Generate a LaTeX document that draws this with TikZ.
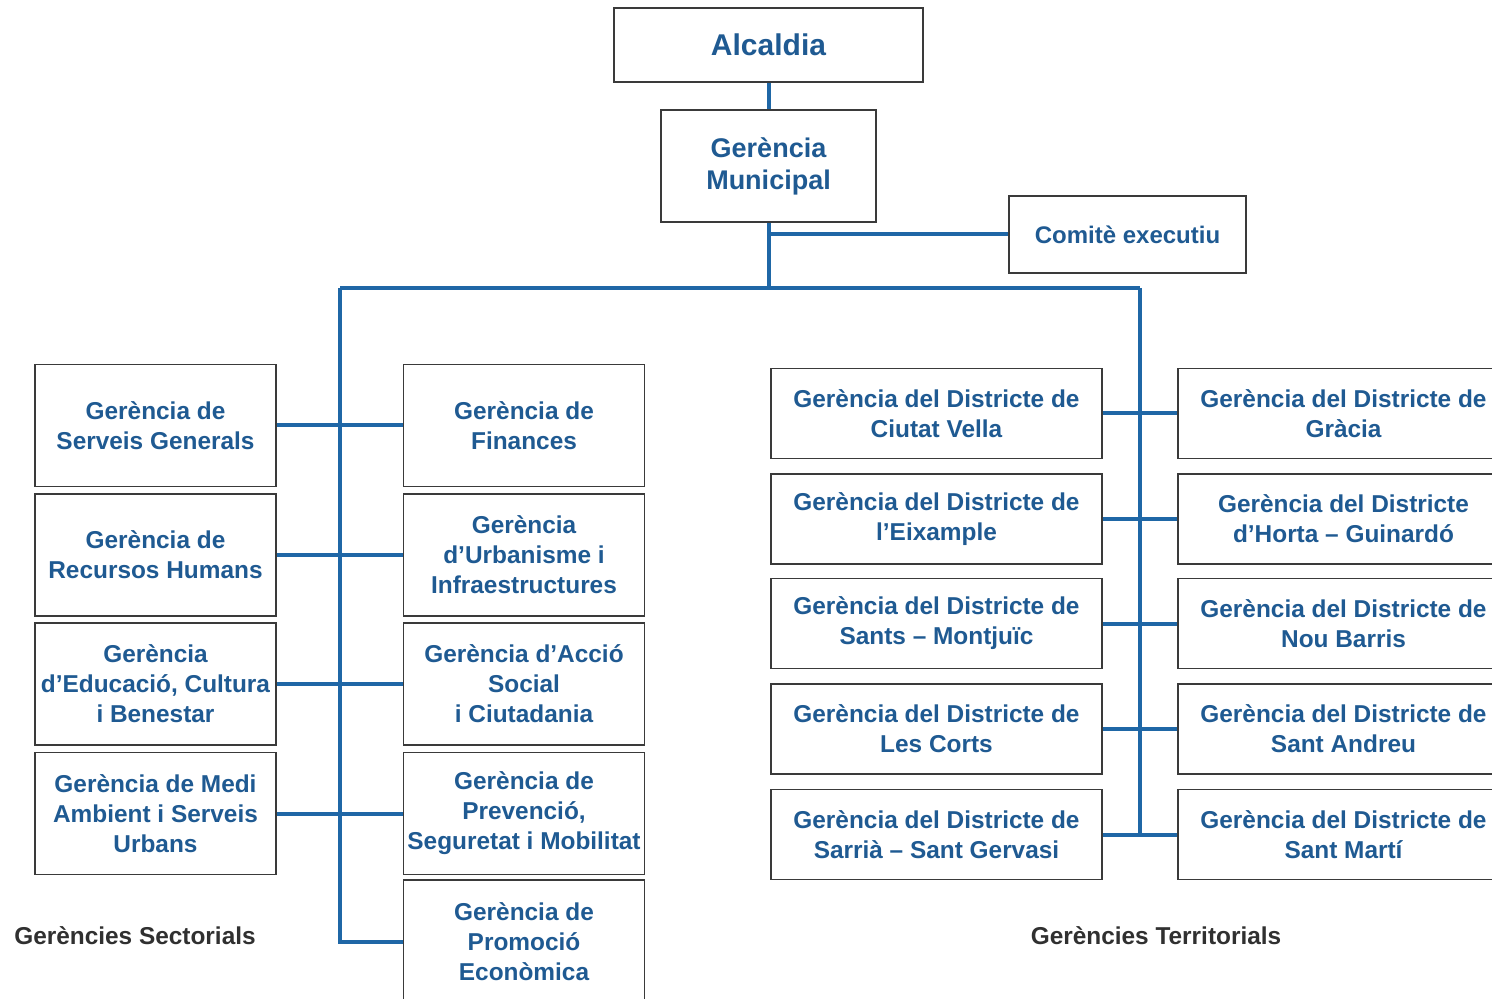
\documentclass[tikz,border=0pt]{standalone}
\usepackage{fontspec}
\setmainfont{Liberation Sans}
\definecolor{txtblue}{HTML}{1F5A92}
\definecolor{lineblue}{HTML}{1F67A6}
\definecolor{boxline}{HTML}{3A3A3A}
\definecolor{lblgray}{HTML}{303030}
\begin{document}
\begin{tikzpicture}[x=0.5pt,y=-0.5pt,
  box/.style={draw=boxline, line width=0.7pt, fill=white, align=center, text=txtblue,
    inner sep=0pt, font=\fontsize{12.2pt}{15pt}\selectfont\bfseries},
  secbox/.style={box, minimum width=120.5pt, minimum height=61pt},
  terbox/.style={box, minimum width=165.5pt, minimum height=45pt},
  conn/.style={draw=lineblue, line width=2pt},
  lbl/.style={text=lblgray, font=\fontsize{12.2pt}{15pt}\selectfont\bfseries, inner sep=0pt}]
\useasboundingbox (0,0) rectangle (1492,999);

% top
\node[box, minimum width=154.5pt, minimum height=37pt, font=\fontsize{15pt}{18pt}\selectfont\bfseries] (alc) at (768.5,45) {Alcaldia};
\node[box, minimum width=107.5pt, minimum height=56pt, font=\fontsize{13.5pt}{16pt}\selectfont\bfseries] (gm) at (768.5,166) {Gerència\\Municipal};
\node[box, minimum width=118.5pt, minimum height=38.5pt, font=\fontsize{12pt}{15pt}\selectfont\bfseries] (com) at (1127.5,234.5) {Comitè executiu};

% sectorial left column
\node[secbox] (sg) at (155.5,425.5) {Gerència de\\Serveis Generals};
\node[secbox] (rh) at (155.5,555) {Gerència de\\Recursos Humans};
\node[secbox] (edu) at (155.5,684) {Gerència\\d’Educació, Cultura\\i Benestar};
\node[secbox] (med) at (155.5,813.5) {Gerència de Medi\\Ambient i Serveis\\Urbans};

% sectorial right column
\node[secbox] (fin) at (524,425.5) {Gerència de\\Finances};
\node[secbox] (urb) at (524,555) {Gerència\\d’Urbanisme i\\Infraestructures};
\node[secbox] (acc) at (524,684) {Gerència d’Acció\\Social\\i Ciutadania};
\node[secbox] (prev) at (524,813.5) {Gerència de\\Prevenció,\\Seguretat i Mobilitat};
\node[secbox, minimum height=62pt] (prom) at (524,942) {Gerència de\\Promoció\\Econòmica};

% territorial left column
\node[terbox] (cv) at (936.5,413.5) {Gerència del Districte de\\Ciutat Vella};
\node[terbox] (eix) at (936.5,519) {Gerència del Districte de\\l’Eixample};
\node[terbox] (san) at (936.5,623.5) {Gerència del Districte de\\Sants – Montjuïc};
\node[terbox] (lc) at (936.5,729) {Gerència del Districte de\\Les Corts};
\node[terbox] (sar) at (936.5,834.5) {Gerència del Districte de\\Sarrià – Sant Gervasi};

% territorial right column
\node[terbox] (gra) at (1343.5,413.5) {Gerència del Districte de\\Gràcia};
\node[terbox] (hor) at (1343.5,519) {Gerència del Districte\\d’Horta – Guinardó};
\node[terbox] (nb) at (1343.5,623.5) {Gerència del Districte de\\Nou Barris};
\node[terbox] (sa) at (1343.5,729) {Gerència del Districte de\\Sant Andreu};
\node[terbox] (sm) at (1343.5,834.5) {Gerència del Districte de\\Sant Martí};

% labels
\node[lbl] (lsec) at (135,936) {Gerències Sectorials};
\node[lbl] (lter) at (1156,936) {Gerències Territorials};

% connectors
\coordinate (bus) at (768.5,288);
\coordinate (busL) at (340,288);
\coordinate (busR) at (1140,288);
\coordinate (cj) at (768.5,234.5);

\draw[conn] (alc.south) -- (gm.north);
\draw[conn] (gm.south) -- (bus);
\draw[conn] (cj) -- (com.west);
\draw[conn] (busL) -- (busR);
\draw[conn] (busL) -- (busL |- prom.west) -- (prom.west);
\draw[conn] (busR) -- (busR |- sar.east);

\draw[conn] (sg.east) -- (fin.west);
\draw[conn] (rh.east) -- (urb.west);
\draw[conn] (edu.east) -- (acc.west);
\draw[conn] (med.east) -- (prev.west);

\draw[conn] (cv.east) -- (gra.west);
\draw[conn] (eix.east) -- (hor.west);
\draw[conn] (san.east) -- (nb.west);
\draw[conn] (lc.east) -- (sa.west);
\draw[conn] (sar.east) -- (sm.west);
\end{tikzpicture}
\end{document}
